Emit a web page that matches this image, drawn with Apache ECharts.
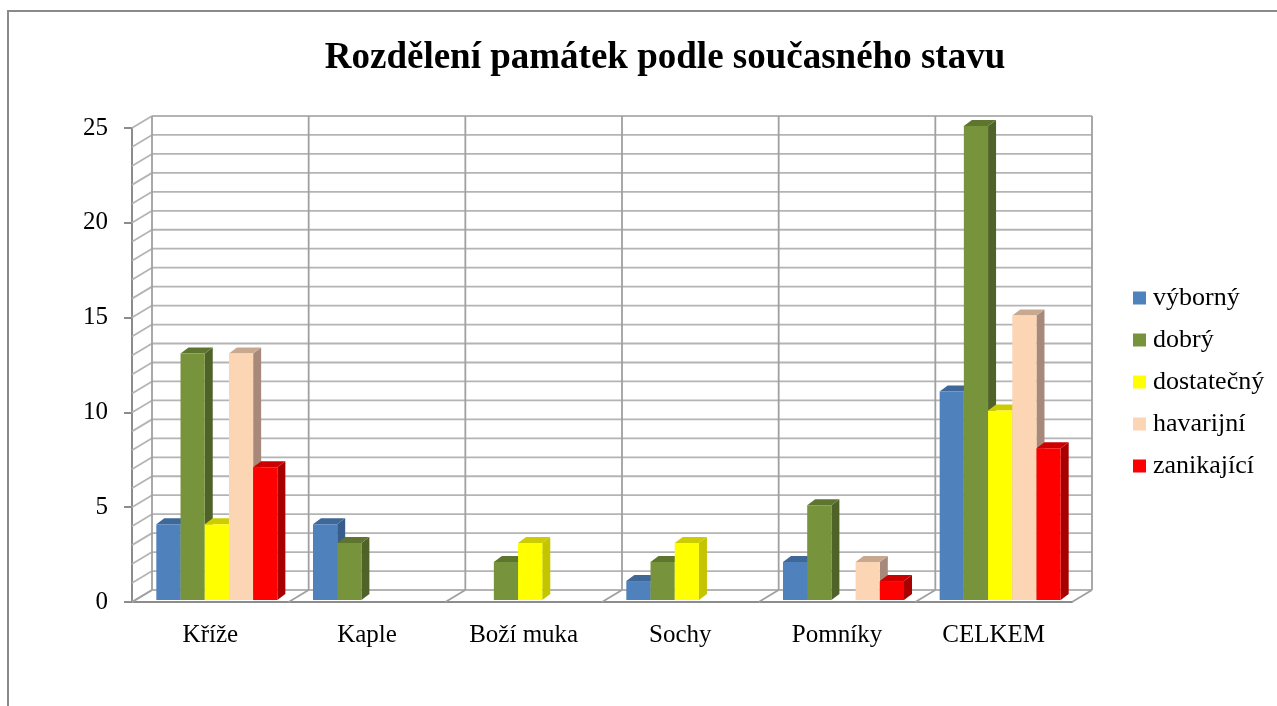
<!DOCTYPE html>
<html>
<head>
<meta charset="utf-8">
<script src="https://cdn.jsdelivr.net/npm/echarts@6/dist/echarts.min.js"></script>
<style>
html,body{margin:0;padding:0;background:#fff;}
#chart{width:1277px;height:706px;}
</style>
</head>
<body>
<div id="chart"></div>
<script>
// data
var categories = ['Kříže', 'Kaple', 'Boží muka', 'Sochy', 'Pomníky', 'CELKEM'];
var seriesNames = ['výborný', 'dobrý', 'dostatečný', 'havarijní', 'zanikající'];
var vyborny    = [4, 4, 0, 1, 2, 11];
var dobry      = [13, 3, 2, 2, 5, 25];
var dostatecny = [4, 0, 3, 3, 0, 10];
var havarijni  = [13, 0, 0, 0, 2, 15];
var zanikajici = [7, 0, 0, 0, 1, 8];
var seriesValues = [vyborny, dobry, dostatecny, havarijni, zanikajici];

// colours (front / side / top faces)
var frontColors = ['#4F81BD', '#77933C', '#FFFF00', '#FCD5B5', '#FF0000'];
var sideColors  = ['#385D8A', '#4F6228', '#C4C400', '#A6897A', '#A80000'];
var topColors   = ['#3F6797', '#5E7530', '#CCCC00', '#C9A890', '#CC0000'];

var Y_MAX = 25;
var WALL_DX = 20, WALL_DY = -12;   // depth of the 3d box
var BAR_DX = 8, BAR_DY = -6;       // depth of each bar
var BAR_RATIO = 0.1545;            // bar width / category width
var GROUP_SHIFT = 6.5;
var BAR_LIFT = -2;
var GRID_COLOR = '#B4B4B4';
var GRID_V_COLOR = '#A0A0A0';
var AXIS_COLOR = '#8C8C8C';
var FONT = '"Liberation Serif", "Times New Roman", serif';

var chart = echarts.init(document.getElementById('chart'));

function renderWalls(params, api) {
  var catW = api.size([1, 0])[0];
  var first = api.coord([0, 0]);
  var x0 = first[0] - catW / 2;
  var x1 = x0 + catW * categories.length;
  var y0 = first[1];
  var yTop = api.coord([0, Y_MAX])[1];
  var children = [];
  function line(ax, ay, bx, by, color) {
    children.push({
      type: 'line',
      shape: {x1: ax, y1: ay, x2: bx, y2: by},
      style: {stroke: color, lineWidth: 1.8}
    });
  }
  for (var v = 0; v <= Y_MAX; v++) {
    var y = api.coord([0, v])[1];
    line(x0, y, x0 + WALL_DX, y + WALL_DY, GRID_COLOR);
    line(x0 + WALL_DX, y + WALL_DY, x1 + WALL_DX, y + WALL_DY, GRID_COLOR);
  }
  for (var k = 0; k <= categories.length; k++) {
    var x = x0 + k * catW;
    line(x + WALL_DX, y0 + WALL_DY, x + WALL_DX, yTop + WALL_DY, GRID_V_COLOR);
    line(x, y0, x + WALL_DX, y0 + WALL_DY, GRID_V_COLOR);
  }
  return {type: 'group', children: children};
}

function makeBarRenderer(idx) {
  return function (params, api) {
    var cat = api.value(0), val = api.value(1);
    if (!val) return null;
    var catW = api.size([1, 0])[0];
    var base = api.coord([cat, 0]);
    var top = api.coord([cat, val]);
    var bw = catW * BAR_RATIO;
    var xl = base[0] + GROUP_SHIFT - bw * 2.5 + idx * bw;
    var xr = xl + bw;
    var yb = base[1] + BAR_LIFT;
    var yt = top[1] + BAR_LIFT;
    return {
      type: 'group',
      children: [
        {type: 'polygon', shape: {points: [[xr, yb], [xr + BAR_DX, yb + BAR_DY], [xr + BAR_DX, yt + BAR_DY], [xr, yt]]},
          style: {fill: sideColors[idx]}},
        {type: 'polygon', shape: {points: [[xl, yt], [xl + BAR_DX, yt + BAR_DY], [xr + BAR_DX, yt + BAR_DY], [xr, yt]]},
          style: {fill: topColors[idx]}},
        {type: 'rect', shape: {x: xl, y: yt, width: bw, height: yb - yt},
          style: {fill: frontColors[idx]}}
      ]
    };
  };
}

var series = [{
  type: 'custom',
  name: 'walls',
  silent: true,
  z: 1,
  renderItem: renderWalls,
  data: [[0, 0]]
}];
seriesNames.forEach(function (name, i) {
  series.push({
    type: 'custom',
    name: name,
    z: 2,
    itemStyle: {color: frontColors[i]},
    renderItem: makeBarRenderer(i),
    data: seriesValues[i].map(function (v, j) { return [j, v]; })
  });
});

var option = {
  animation: false,
  color: frontColors,
  title: {
    text: 'Rozdělení památek podle současného stavu',
    left: 660,
    top: 35,
    textAlign: 'center',
    textStyle: {fontFamily: FONT, fontSize: 37, fontWeight: 'bold', color: '#000'}
  },
  legend: {
    data: seriesNames,
    orient: 'vertical',
    left: 1133,
    top: 285,
    padding: 0,
    icon: 'rect',
    itemWidth: 13,
    itemHeight: 13,
    itemGap: 16,
    textStyle: {fontFamily: FONT, fontSize: 26, color: '#000', padding: [0, 0, 0, 2]}
  },
  grid: {left: 132, right: 205, top: 128, bottom: 104},
  xAxis: {
    type: 'category',
    data: categories,
    axisLine: {lineStyle: {color: AXIS_COLOR, width: 2}},
    axisTick: {length: 9, lineStyle: {color: AXIS_COLOR, width: 2}},
    axisLabel: {fontFamily: FONT, fontSize: 25, color: '#000', margin: 21, interval: 0},
    splitLine: {show: false}
  },
  yAxis: {
    type: 'value',
    min: 0,
    max: Y_MAX,
    interval: 5,
    axisLine: {show: true, lineStyle: {color: AXIS_COLOR, width: 2}},
    axisTick: {show: true, length: 8, lineStyle: {color: AXIS_COLOR, width: 2}},
    axisLabel: {fontFamily: FONT, fontSize: 25, color: '#000', margin: 24},
    splitLine: {show: false}
  },
  graphic: [{
    type: 'rect',
    shape: {x: 8, y: 11, width: 1400, height: 900},
    style: {fill: null, stroke: '#8A8A8A', lineWidth: 2},
    silent: true,
    z: -1
  }],
  series: series
};
chart.setOption(option);
</script>
</body>
</html>
